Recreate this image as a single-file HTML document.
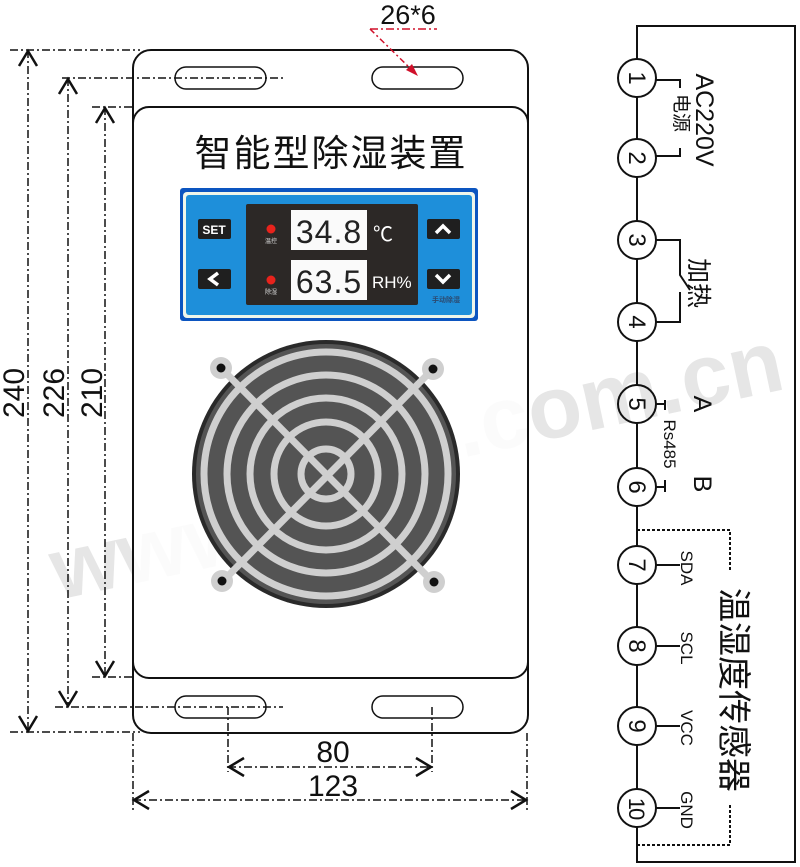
<!DOCTYPE html>
<html><head><meta charset="utf-8"><style>
html,body{margin:0;padding:0;background:#fff;}
svg{display:block;}
text{font-family:"Liberation Sans","Noto Sans CJK SC",sans-serif;}
</style></head><body>
<svg width="800" height="867" viewBox="0 0 800 867" xmlns="http://www.w3.org/2000/svg">
<!-- watermark -->
<g fill="#e6e6e6" font-weight="bold" font-size="88" transform="rotate(-12 400 430)">
<text x="30" y="525">www.</text>
<text x="455" y="470">.com.cn</text>
</g>
<!-- plate -->
<rect x="133" y="50" width="395" height="683" rx="18" fill="#fff" fill-opacity="0.6" stroke="#111" stroke-width="2"/>
<rect x="133" y="107" width="395" height="571" rx="16" fill="#fff" fill-opacity="0.6" stroke="#111" stroke-width="2"/>
<!-- slots -->
<g fill="none" stroke="#111" stroke-width="1.5">
<rect x="175" y="67" width="91" height="22" rx="11"/>
<rect x="372" y="67" width="91" height="22" rx="11"/>
<rect x="175" y="696" width="91" height="22" rx="11"/>
<rect x="372" y="696" width="91" height="22" rx="11"/>
</g>
<!-- dimension lines -->
<g fill="none" stroke="#111" stroke-width="1.5" stroke-dasharray="8,3,2,3">
<line x1="10" y1="50" x2="140" y2="50"/>
<line x1="62" y1="78" x2="283" y2="78"/>
<line x1="92" y1="107" x2="135" y2="107"/>
<line x1="92" y1="677" x2="135" y2="677"/>
<line x1="55" y1="707" x2="283" y2="707"/>
<line x1="10" y1="732" x2="140" y2="732"/>
<line x1="28" y1="50" x2="28" y2="732"/>
<line x1="68" y1="78" x2="68" y2="707"/>
<line x1="105" y1="107" x2="105" y2="677"/>
<line x1="228" y1="707" x2="228" y2="772"/>
<line x1="432" y1="707" x2="432" y2="772"/>
<line x1="228" y1="767" x2="432" y2="767"/>
<line x1="133" y1="733" x2="133" y2="812"/>
<line x1="527" y1="733" x2="527" y2="812"/>
<line x1="133" y1="800" x2="527" y2="800"/>
</g>
<g fill="none" stroke="#111" stroke-width="2.5">
<polyline points="19,66 28,51 37,66"/>
<polyline points="19,716 28,731 37,716"/>
<polyline points="59,94 68,79 77,94"/>
<polyline points="59,691 68,706 77,691"/>
<polyline points="96,123 105,108 114,123"/>
<polyline points="96,661 105,676 114,661"/>
<polyline points="244,758 229,767 244,776"/>
<polyline points="416,758 431,767 416,776"/>
<polyline points="149,791 134,800 149,809"/>
<polyline points="511,791 526,800 511,809"/>
</g>
<g font-size="30" fill="#111" text-anchor="middle">
<text transform="translate(24 393) rotate(-90)">240</text>
<text transform="translate(64 393) rotate(-90)">226</text>
<text transform="translate(102 393) rotate(-90)">210</text>
<text x="333" y="762">80</text>
<text x="333" y="796">123</text>
<text x="408" y="24" font-size="27">26*6</text>
</g>
<line x1="370" y1="29" x2="437" y2="29" stroke="#d0102a" stroke-width="1.5" stroke-dasharray="8,3,2,3"/>
<line x1="370" y1="29" x2="414" y2="72" stroke="#d0102a" stroke-width="1.5" stroke-dasharray="6,3,2,3"/>
<polygon points="418,76 406,70 412,64" fill="#d0102a"/>
<!-- title -->
<text x="331" y="166" font-size="37" text-anchor="middle" fill="#111" letter-spacing="2">智能型除湿装置</text>
<!-- display -->
<rect x="180" y="188" width="298" height="133" rx="3" fill="#0c55c0"/>
<rect x="183" y="192" width="292" height="126" rx="4" fill="#f0f6ea"/>
<rect x="186" y="195" width="286" height="120" rx="3" fill="#1e8fda"/>
<rect x="246" y="204" width="172" height="101" rx="2" fill="#2c2826"/>
<rect x="291" y="210" width="76" height="40" fill="#fafafa"/>
<rect x="291" y="260" width="76" height="40" fill="#fafafa"/>
<text x="329" y="243" font-size="32" text-anchor="middle" fill="#222" font-family="Liberation Mono" letter-spacing="1">34.8</text>
<text x="329" y="293" font-size="32" text-anchor="middle" fill="#222" font-family="Liberation Mono" letter-spacing="1">63.5</text>
<text x="373" y="241" font-size="20" fill="#fff">℃</text>
<text x="372" y="288" font-size="17" fill="#fff">RH%</text>
<circle cx="271" cy="229" r="4.5" fill="#e8231c"/>
<circle cx="271" cy="280" r="4.5" fill="#e8231c"/>
<text x="271" y="243" font-size="6" fill="#ddd" text-anchor="middle">温控</text>
<text x="271" y="294" font-size="6" fill="#ddd" text-anchor="middle">除湿</text>
<text x="446" y="302" font-size="7" fill="#2c4a70" text-anchor="middle" font-weight="bold">手动除湿</text>
<rect x="198" y="219" width="33" height="20" rx="2" fill="#1f1f1f"/>
<text x="214" y="234" font-size="12" font-weight="bold" fill="#fff" text-anchor="middle">SET</text>
<rect x="198" y="269" width="33" height="20" rx="2" fill="#1f1f1f"/>
<polyline points="218,273 210,279 218,285" fill="none" stroke="#fff" stroke-width="3.5"/>
<rect x="427" y="219" width="33" height="20" rx="2" fill="#1f1f1f"/>
<polyline points="436,233 443,226 450,233" fill="none" stroke="#fff" stroke-width="3.5"/>
<rect x="427" y="269" width="33" height="20" rx="2" fill="#1f1f1f"/>
<polyline points="436,275 443,282 450,275" fill="none" stroke="#fff" stroke-width="3.5"/>
<!-- fan -->
<circle cx="326" cy="474" r="134" fill="#2a2a2a"/>
<circle cx="326" cy="474" r="130" fill="#545454"/>
<g fill="none" stroke="#cfcfcf" stroke-width="7">
<circle cx="326" cy="474" r="122"/>
<circle cx="326" cy="474" r="99"/>
<circle cx="326" cy="474" r="76"/>
<circle cx="326" cy="474" r="52"/>
<circle cx="326" cy="474" r="25"/>
<line x1="221" y1="368" x2="433" y2="582"/>
<line x1="433" y1="369" x2="222" y2="582"/>
</g>
<g fill="#cfcfcf"><circle cx="221" cy="368" r="11"/><circle cx="433" cy="369" r="11"/><circle cx="222" cy="581" r="11"/><circle cx="434" cy="582" r="11"/></g>
<g fill="#111"><circle cx="221" cy="368" r="4.5"/><circle cx="433" cy="369" r="4.5"/><circle cx="222" cy="581" r="4.5"/><circle cx="434" cy="582" r="4.5"/></g>
<!-- wiring -->
<g fill="none" stroke="#111" stroke-width="2">
<polyline points="637,60 637,26 795,26 795,862 637,862 637,827"/>
<line x1="637" y1="97" x2="637" y2="139"/>
<line x1="637" y1="177" x2="637" y2="221"/>
<line x1="637" y1="259" x2="637" y2="303"/>
<line x1="637" y1="341" x2="637" y2="385"/>
<line x1="637" y1="423" x2="637" y2="468"/>
<line x1="637" y1="506" x2="637" y2="546"/>
<line x1="637" y1="584" x2="637" y2="627"/>
<line x1="637" y1="665" x2="637" y2="707"/>
<line x1="637" y1="745" x2="637" y2="789"/>
<circle cx="637" cy="78" r="19"/><circle cx="637" cy="158" r="19"/>
<circle cx="637" cy="240" r="19"/><circle cx="637" cy="322" r="19"/>
<circle cx="637" cy="404" r="19"/><circle cx="637" cy="487" r="19"/>
<circle cx="637" cy="565" r="19"/><circle cx="637" cy="646" r="19"/>
<circle cx="637" cy="726" r="19"/><circle cx="637" cy="808" r="19"/>
<polyline points="656,80 680,80 680,88"/>
<polyline points="656,156 680,156 680,148"/>
<polyline points="656,240 680,240 680,275 690,290"/>
<polyline points="656,322 680,322 680,292"/>
<polyline points="656,404 665,404"/>
<polyline points="665,400 665,410"/>
<polyline points="656,487 665,487"/>
<polyline points="665,480 665,492"/>
<line x1="656" y1="565" x2="680" y2="565"/>
<line x1="656" y1="646" x2="680" y2="646"/>
<line x1="656" y1="726" x2="680" y2="726"/>
<line x1="656" y1="808" x2="680" y2="808"/>
</g>
<polyline points="637,530 730,530 730,570" fill="none" stroke="#111" stroke-width="2" stroke-dasharray="3,2"/>
<polyline points="637,845 730,845 730,805" fill="none" stroke="#111" stroke-width="2" stroke-dasharray="3,2"/>
<g fill="#111" font-size="24" text-anchor="middle">
<text transform="translate(637 78) rotate(90)" y="8">1</text>
<text transform="translate(637 158) rotate(90)" y="8">2</text>
<text transform="translate(637 240) rotate(90)" y="8">3</text>
<text transform="translate(637 322) rotate(90)" y="8">4</text>
<text transform="translate(637 404) rotate(90)" y="8">5</text>
<text transform="translate(637 487) rotate(90)" y="8">6</text>
<text transform="translate(637 565) rotate(90)" y="8">7</text>
<text transform="translate(637 646) rotate(90)" y="8">8</text>
<text transform="translate(637 726) rotate(90)" y="8">9</text>
<text transform="translate(637 808) rotate(90)" y="8" font-size="22" letter-spacing="-2">10</text>
<text transform="translate(696 120) rotate(90)" font-size="25">AC220V</text>
<text transform="translate(675 113) rotate(90)" font-size="19">电源</text>
<text transform="translate(690 283) rotate(90)" font-size="25">加热</text>
<text transform="translate(694 404) rotate(90)" font-size="25">A</text>
<text transform="translate(694 484) rotate(90)" font-size="25">B</text>
<text transform="translate(664 444) rotate(90)" font-size="17">Rs485</text>
<text transform="translate(681 568) rotate(90)" font-size="17">SDA</text>
<text transform="translate(681 648) rotate(90)" font-size="17">SCL</text>
<text transform="translate(681 728) rotate(90)" font-size="17">VCC</text>
<text transform="translate(681 810) rotate(90)" font-size="17">GND</text>
<text transform="translate(722 690) rotate(90)" font-size="34">温湿度传感器</text>
</g>
</svg>
</body></html>
